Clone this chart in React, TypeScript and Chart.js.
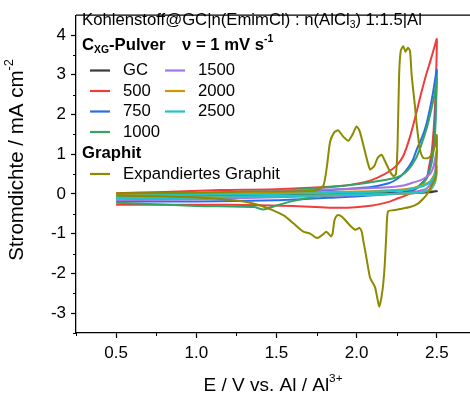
import React, { useEffect, useRef } from 'react';
import { Chart, registerables } from 'chart.js';

Chart.register(...registerables);

const FONT = '"Liberation Sans", Arial, Helvetica, sans-serif';

const xTicks = [0.5, 1.0, 1.5, 2.0, 2.5];
const yTicks = [-3, -2, -1, 0, 1, 2, 3, 4];
const xMinor = [0.25, 0.75, 1.25, 1.75, 2.25, 2.75];
const yMinor = [-3.5, -2.5, -1.5, -0.5, 0.5, 1.5, 2.5, 3.5];

// GC
const gcE = [0.5, 1.0, 1.5, 2.0, 2.3, 2.5, 2.45, 2.3, 2.0, 1.5, 1.0, 0.5];
const gcJ = [-0.02, -0.01, 0.0, 0.01, 0.03, 0.07, 0.04, 0.01, -0.01, -0.03, -0.05, -0.06];

// 500
const c500E = [0.5, 0.8, 1.15, 1.5, 1.9, 2.0, 2.08, 2.15, 2.2, 2.25, 2.29, 2.33, 2.37, 2.4, 2.43, 2.46, 2.485, 2.5,
  2.497, 2.49, 2.48, 2.467, 2.45, 2.44, 2.4, 2.35, 2.3, 2.25, 2.2, 2.1, 1.9, 1.6, 1.2, 0.8, 0.5];
const c500J = [0.02, 0.05, 0.1, 0.12, 0.2, 0.26, 0.33, 0.45, 0.56, 0.72, 0.95, 1.4, 2.0, 2.5, 2.95, 3.35, 3.7, 3.9,
  3.2, 2.3, 1.6, 1.03, 0.65, 0.42, 0.25, 0.06, -0.05, -0.12, -0.2, -0.29, -0.35, -0.3, -0.27, -0.27, -0.27];

// 750
const c750E = [0.5, 1.0, 1.5, 1.9, 2.08, 2.2, 2.25, 2.3, 2.35, 2.374, 2.41, 2.436, 2.46, 2.478, 2.5,
  2.495, 2.49, 2.48, 2.465, 2.44, 2.4, 2.35, 2.25, 2.08, 1.9, 1.5, 1.0, 0.5];
const c750J = [-0.04, -0.03, 0.0, 0.12, 0.17, 0.27, 0.37, 0.55, 0.85, 1.11, 1.45, 1.77, 2.2, 2.59, 3.13,
  2.4, 1.8, 1.2, 0.8, 0.45, 0.22, 0.1, 0.02, -0.04, -0.08, -0.16, -0.19, -0.19];

// 1000
const c1000E = [0.5, 1.0, 1.52, 1.9, 2.08, 2.2, 2.27, 2.32, 2.37, 2.4, 2.44, 2.47, 2.49, 2.5,
  2.495, 2.49, 2.48, 2.46, 2.43, 2.38, 2.3, 2.08, 1.79, 1.6, 1.5, 1.42, 1.36, 1.0, 0.5];
const c1000J = [-0.02, 0.02, 0.08, 0.2, 0.29, 0.37, 0.45, 0.6, 0.9, 1.2, 1.7, 2.2, 2.6, 2.92,
  2.2, 1.6, 1.1, 0.65, 0.35, 0.18, 0.1, 0.04, -0.04, -0.18, -0.29, -0.39, -0.33, -0.3, -0.22];

// 1500
const c1500E = [0.5, 1.15, 1.9, 2.2, 2.3, 2.353, 2.4, 2.457, 2.48, 2.5, 2.49, 2.47, 2.43, 2.3, 2.0, 1.5, 1.0, 0.5];
const c1500J = [-0.02, 0.04, 0.12, 0.17, 0.22, 0.29, 0.35, 0.5, 0.7, 1.1, 0.6, 0.3, 0.12, 0.02, -0.03, -0.08, -0.13, -0.16];

// 2000
const c2000E = [0.5, 1.0, 1.5, 2.0, 2.3, 2.4, 2.46, 2.5, 2.49, 2.46, 2.35, 2.0, 1.5, 1.0, 0.5];
const c2000J = [-0.03, 0.0, 0.03, 0.06, 0.12, 0.2, 0.33, 0.6, 0.3, 0.1, 0.02, -0.02, -0.05, -0.08, -0.1];

// 2500
const c2500E = [0.5, 1.0, 1.5, 2.0, 2.3, 2.4, 2.46, 2.49, 2.5, 2.49, 2.46, 2.38, 2.2, 1.8, 1.2, 0.5];
const c2500J = [-0.05, -0.02, 0.0, 0.04, 0.1, 0.18, 0.3, 0.5, 0.7, 0.35, 0.12, 0.03, 0.0, -0.04, -0.08, -0.12];

// Expandiertes Graphit
const expE = [0.5, 1.0, 1.3, 1.65, 1.75, 1.793, 1.815, 1.834, 1.86, 1.886, 1.915, 1.948, 1.975, 2.0, 2.02, 2.05, 2.083,
  2.11, 2.13, 2.155, 2.18, 2.21, 2.229, 2.245, 2.255, 2.265, 2.275, 2.291, 2.305, 2.32, 2.333, 2.343, 2.364, 2.374,
  2.395, 2.415, 2.44, 2.46, 2.488, 2.5,
  2.497, 2.49, 2.467, 2.44, 2.415, 2.38, 2.333, 2.27, 2.229, 2.197, 2.19, 2.185, 2.175, 2.166, 2.155, 2.141, 2.128,
  2.115, 2.095, 2.083, 2.065, 2.052, 2.042, 2.032, 2.017, 2.005, 1.99, 1.965, 1.938, 1.91, 1.886, 1.87, 1.86, 1.85,
  1.84, 1.825, 1.81, 1.795, 1.78, 1.752, 1.71, 1.668, 1.606, 1.55, 1.5, 1.44, 1.4, 1.295, 1.087, 0.776, 0.5];
const expJ = [0.02, 0.03, 0.06, 0.07, 0.1, 0.21, 0.7, 1.3, 1.55, 1.6, 1.45, 1.34, 1.5, 1.7, 1.57, 1.1, 0.62,
  0.7, 0.9, 0.99, 0.8, 0.55, 0.45, 0.5, 1.2, 3.0, 3.6, 3.72, 3.58, 3.68, 3.6, 3.0, 2.2, 1.77,
  1.11, 0.91, 0.9, 0.95, 1.2, 1.48,
  0.7, 0.4, 0.21, 0.0, -0.12, -0.25, -0.33, -0.38, -0.41, -0.43, -0.6, -1.03, -1.8, -2.26, -2.6, -2.84, -2.6,
  -2.35, -2.2, -2.1, -1.7, -1.4, -1.19, -0.95, -0.85, -0.88, -0.9, -0.82, -0.7, -0.58, -0.53, -0.58, -0.7, -1.0,
  -1.07, -1.0, -0.95, -1.0, -1.05, -1.11, -1.0, -0.95, -0.74, -0.55, -0.45, -0.35, -0.29, -0.19, -0.11, -0.06, -0.04];

const seriesLabels = ['GC', '500', '750', '1000', '1500', '2000', '2500', 'Expandiertes Graphit'];
const seriesColors = ['#3a3a3a', '#f03c3c', '#2a6ee6', '#33a463', '#a574e6', '#c99a06', '#22c4c8', '#8c8a00'];
const seriesE = [gcE, c500E, c750E, c1000E, c1500E, c2000E, c2500E, expE];
const seriesJ = [gcJ, c500J, c750J, c1000J, c1500J, c2000J, c2500J, expJ];
const seriesOrder = [7, 6, 5, 4, 3, 2, 1, 0];

type Part = { t: string; bold?: boolean; sub?: boolean; sup?: boolean };

function drawRich(ctx: CanvasRenderingContext2D, x: number, y: number, parts: Part[], size: number) {
  let cx = x;
  for (const p of parts) {
    const s = p.sub || p.sup ? size * 0.62 : size;
    ctx.font = `${p.bold ? 'bold ' : ''}${s}px ${FONT}`;
    const dy = p.sub ? size * 0.3 : p.sup ? -size * 0.38 : 0;
    ctx.fillText(p.t, cx, y + dy);
    cx += ctx.measureText(p.t).width;
  }
  return cx - x;
}

function measureRich(ctx: CanvasRenderingContext2D, parts: Part[], size: number) {
  let w = 0;
  for (const p of parts) {
    const s = p.sub || p.sup ? size * 0.62 : size;
    ctx.font = `${p.bold ? 'bold ' : ''}${s}px ${FONT}`;
    w += ctx.measureText(p.t).width;
  }
  return w;
}

const decorPlugin = {
  id: 'decor',
  afterDraw(chart: any) {
    const ctx: CanvasRenderingContext2D = chart.ctx;
    const { left, right, top, bottom } = chart.chartArea;
    const xs = chart.scales.x;
    const ys = chart.scales.y;
    ctx.save();
    ctx.strokeStyle = '#000';
    ctx.lineWidth = 1.3;
    ctx.beginPath();
    ctx.moveTo(left, top);
    ctx.lineTo(right, top);
    ctx.stroke();
    ctx.lineWidth = 1;
    for (const v of xMinor) {
      const px = Math.round(xs.getPixelForValue(v)) + 0.5;
      if (px < left - 1 || px > right) continue;
      ctx.beginPath();
      ctx.moveTo(px, bottom);
      ctx.lineTo(px, bottom + 3);
      ctx.stroke();
    }
    for (const v of yMinor) {
      const py = Math.round(ys.getPixelForValue(v)) + 0.5;
      ctx.beginPath();
      ctx.moveTo(left, py);
      ctx.lineTo(left - 3, py);
      ctx.stroke();
    }

    ctx.fillStyle = '#000';
    ctx.textBaseline = 'middle';
    ctx.textAlign = 'left';

    const xt: Part[] = [{ t: 'E / V vs. Al / Al' }, { t: '3+', sup: true }];
    const xw = measureRich(ctx, xt, 19);
    drawRich(ctx, (left + right) / 2 - xw / 2, 386, xt, 19);

    const yt: Part[] = [{ t: 'Stromdichte / mA cm' }, { t: '-2', sup: true }];
    const yw = measureRich(ctx, yt, 20.5);
    ctx.save();
    ctx.translate(17, 160);
    ctx.rotate(-Math.PI / 2);
    drawRich(ctx, -yw / 2, 0, yt, 20.5);
    ctx.restore();

    const fs = 16.7;
    const lx = 82;
    drawRich(ctx, lx, 20, [
      { t: 'Kohlenstoff@GC|n(EmimCl) : n(AlCl' }, { t: '3', sub: true }, { t: ') 1:1.5|Al' },
    ], fs);
    drawRich(ctx, lx, 45, [
      { t: 'C', bold: true }, { t: 'XG', bold: true, sub: true }, { t: '-Pulver', bold: true },
    ], fs);
    drawRich(ctx, 182, 45, [{ t: '\u03bd = 1 mV s', bold: true }, { t: '-1', bold: true, sup: true }], fs);

    const rows = [70.5, 91, 111.5, 132];
    const items: [number, number, number][] = [
      [0, 0, 0], [1, 0, 1], [2, 0, 2], [3, 0, 3], [4, 1, 0], [5, 1, 1], [6, 1, 2],
    ];
    ctx.lineWidth = 2.2;
    for (const [i, col, row] of items) {
      const x0 = col === 0 ? 90 : 165;
      const y = rows[row];
      ctx.strokeStyle = seriesColors[i];
      ctx.beginPath();
      ctx.moveTo(x0, y);
      ctx.lineTo(x0 + 20, y);
      ctx.stroke();
      drawRich(ctx, x0 + 33, y, [{ t: seriesLabels[i] }], fs);
    }
    drawRich(ctx, lx, 153.5, [{ t: 'Graphit', bold: true }], fs);
    ctx.strokeStyle = seriesColors[7];
    ctx.beginPath();
    ctx.moveTo(90, 174);
    ctx.lineTo(110, 174);
    ctx.stroke();
    drawRich(ctx, 123, 174, [{ t: seriesLabels[7] }], fs);
    ctx.restore();
  },
};

export default function App() {
  const ref = useRef<HTMLCanvasElement>(null);
  useEffect(() => {
    document.body.style.margin = '0';
    const datasets = seriesLabels.map((label, i) => ({
      label,
      data: seriesE[i].map((e, k) => ({ x: e, y: seriesJ[i][k] })),
      borderColor: seriesColors[i],
      backgroundColor: seriesColors[i],
      borderWidth: 2,
      pointRadius: 0,
      showLine: true,
      tension: 0.2,
      fill: false,
      order: seriesOrder[i],
    }));
    const chart = new Chart(ref.current as HTMLCanvasElement, {
      type: 'scatter',
      data: { datasets },
      plugins: [decorPlugin],
      options: {
        animation: false,
        responsive: false,
        maintainAspectRatio: false,
        events: [],
        layout: { padding: { top: 9, left: 0, right: 0, bottom: 0 } },
        plugins: { legend: { display: false }, tooltip: { enabled: false }, title: { display: false } },
        scales: {
          x: {
            type: 'linear',
            min: 0.25,
            max: 2.707,
            afterBuildTicks: (s: any) => { s.ticks = xTicks.map((v) => ({ value: v })); },
            afterFit: (s: any) => { s.height = 64; },
            ticks: {
              callback: (v: any) => Number(v).toFixed(1),
              font: { size: 17, family: FONT },
              color: '#000',
              padding: 5,
              maxRotation: 0,
              autoSkip: false,
            },
            grid: { drawOnChartArea: false, drawTicks: true, tickLength: 5, color: '#000', tickWidth: 1.2 },
            border: { display: true, color: '#000', width: 1.3 },
          },
          y: {
            type: 'linear',
            min: -3.5,
            max: 4.5,
            afterBuildTicks: (s: any) => { s.ticks = yTicks.map((v) => ({ value: v })); },
            afterFit: (s: any) => { s.width = 76; },
            ticks: {
              callback: (v: any) => String(v),
              font: { size: 17, family: FONT },
              color: '#000',
              padding: 5,
              autoSkip: false,
            },
            grid: { drawOnChartArea: false, drawTicks: true, tickLength: 5, color: '#000', tickWidth: 1.2 },
            border: { display: true, color: '#000', width: 1.3 },
          },
        },
      } as any,
    });
    return () => chart.destroy();
  }, []);
  return (
    <div style={{ position: 'absolute', left: 0, top: 0, width: 470, height: 397 }}>
      <canvas ref={ref} width={470} height={397} />
    </div>
  );
}
